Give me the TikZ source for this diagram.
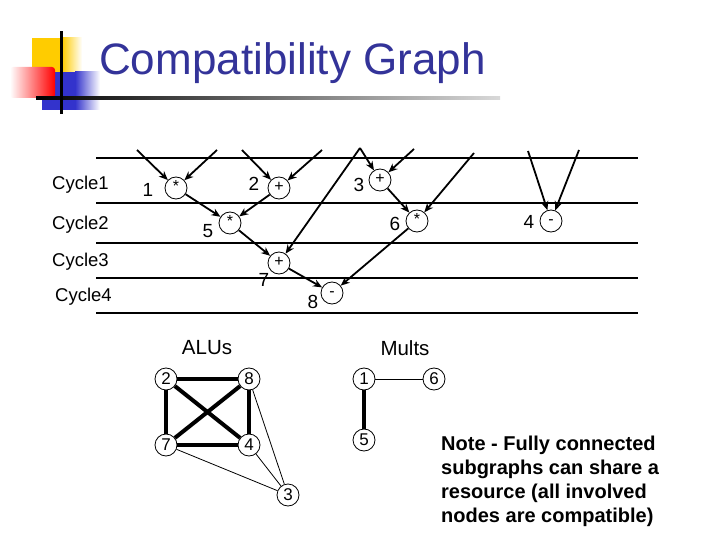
\documentclass[tikz,border=0pt]{standalone}
\usepackage{fontspec}
\setmainfont{Liberation Sans}
\usetikzlibrary{arrows.meta}
\definecolor{titleblue}{RGB}{51,51,153}
\definecolor{decoyellow}{RGB}{255,204,0}
\definecolor{decoblue}{RGB}{51,51,204}
\begin{document}
\begin{tikzpicture}[x=1pt,y=-1pt,
  op/.style={draw,circle,minimum size=22pt,inner sep=0pt,line width=0.8pt,font=\fontsize{16}{16}\selectfont,text height=0.68em,text depth=0pt},
  num/.style={font=\fontsize{19}{19}\selectfont,inner sep=0pt},
  cyc/.style={font=\fontsize{18.5}{18.5}\selectfont,anchor=west,inner sep=0pt},
  hdr/.style={font=\fontsize{20.5}{20.5}\selectfont,inner sep=0pt},
  gnode/.style={draw,circle,minimum size=22pt,inner sep=0pt,line width=0.8pt,font=\fontsize{17}{17}\selectfont},
  arr/.style={-{Stealth[length=9pt,width=7.5pt]},line width=1.8pt},
  thickedge/.style={line width=4pt},
  thinedge/.style={line width=0.8pt},
  rowline/.style={line width=1.1pt}]
\useasboundingbox (0,0) rectangle (720,540);
% decoration
\fill[decoyellow] (32,38) rectangle (62,72);
\shade[left color=decoyellow,right color=white] (62,38) rectangle (82,72);
\fill[decoblue] (42,72) rectangle (75,110);
\shade[left color=decoblue,right color=white] (75,72) rectangle (100,110);
\shade[left color=white,right color=red,rounded corners=3pt] (10,67) -- (55,67) -- (55,98) -- (10,98) -- cycle;
\shade[left color=black,right color=black!15] (36,96.5) rectangle (500,99.5);
\fill[black] (59.5,31) rectangle (62.5,114);
\node[anchor=base west,inner sep=0pt,text=titleblue,font=\fontsize{44}{44}\selectfont] (title) at (99,75) {Compatibility Graph};
% row lines
\foreach \yy in {158,203,243,278,313} \draw[rowline] (96,\yy) -- (638,\yy);
% cycle labels
\node[cyc] (c1) at (52,185) {Cycle1};
\node[cyc] (c2) at (52,225) {Cycle2};
\node[cyc] (c3) at (52,262) {Cycle3};
\node[cyc] (c4) at (55,297) {Cycle4};
% operation nodes
\node[op] (n1) at (176,188) {*};
\node[op] (n2) at (279,188) {+};
\node[op] (n3) at (380,180) {+};
\node[op] (n5) at (230,223) {*};
\node[op] (n6) at (417,221) {*};
\node[op] (n4) at (551,221) {-};
\node[op] (n7) at (279,263) {+};
\node[op] (n8) at (332,293) {-};
\node[num] (l1) at (148,190) {1};
\node[num] (l2) at (254,184) {2};
\node[num] (l3) at (359,185) {3};
\node[num] (l5) at (208,231) {5};
\node[num] (l6) at (395,224) {6};
\node[num] (l4) at (529,222) {4};
\node[num] (l7) at (264,280) {7};
\node[num] (l8) at (313,302) {8};
% sources
\coordinate (s1a) at (137,150);
\coordinate (s1b) at (217,150);
\coordinate (s2a) at (242,150);
\coordinate (s2b) at (322,150);
\coordinate (s3) at (360,148);
\coordinate (s3b) at (414,149);
\coordinate (s6) at (474,153);
\coordinate (s4a) at (528,151);
\coordinate (s4b) at (579,150);
\draw[arr] (s1a) -- (n1);
\draw[arr] (s1b) -- (n1);
\draw[arr] (s2a) -- (n2);
\draw[arr] (s2b) -- (n2);
\draw[arr] (s3) -- (n3);
\draw[arr] (s3b) -- (n3);
\draw[arr] (s3) -- (n7);
\draw[arr] (s6) -- (n6);
\draw[arr] (s4a) -- (n4);
\draw[arr] (s4b) -- (n4);
\draw[arr] (n1) -- (n5);
\draw[arr] (n2) -- (n5);
\draw[arr] (n3) -- (n6);
\draw[arr] (n5) -- (n7);
\draw[arr] (n7) -- (n8);
\draw[arr] (n6) -- (n8);
% compatibility graphs
\node[hdr] (alus) at (207,348) {ALUs};
\node[hdr] (mults) at (405,348) {Mults};
\node[gnode] (a2) at (166,379) {2};
\node[gnode] (a8) at (249,379) {8};
\node[gnode] (a7) at (166,445) {7};
\node[gnode] (a4) at (249,445) {4};
\node[gnode] (a3) at (288,495) {3};
\node[gnode] (m1) at (364,379) {1};
\node[gnode] (m6) at (434,379) {6};
\node[gnode] (m5) at (364,440) {5};
\draw[thickedge] (a2) -- (a8);
\draw[thickedge] (a2) -- (a7);
\draw[thickedge] (a2) -- (a4);
\draw[thickedge] (a7) -- (a8);
\draw[thickedge] (a8) -- (a4);
\draw[thickedge] (a7) -- (a4);
\draw[thinedge] (a8) -- (a3);
\draw[thinedge] (a4) -- (a3);
\draw[thinedge] (a7) -- (a3);
\draw[thickedge] (m1) -- (m5);
\draw[thinedge] (m1) -- (m6);
% note
\node[anchor=north west,align=left,inner sep=0pt,font=\fontsize{20}{24}\selectfont\bfseries] (note) at (441,436) {Note - Fully connected\\subgraphs can share a\\resource (all involved\\nodes are compatible)};
\end{tikzpicture}
\end{document}
